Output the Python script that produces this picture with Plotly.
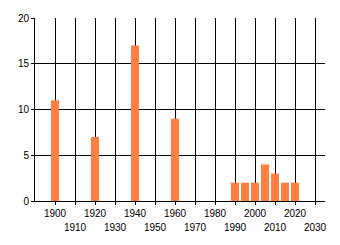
import plotly.graph_objects as go

years = [1900, 1920, 1940, 1960, 1990, 1995, 2000, 2005, 2010, 2015, 2020]
counts = [11, 7, 17, 9, 2, 2, 2, 4, 3, 2, 2]
decades = [1900, 1910, 1920, 1930, 1940, 1950, 1960, 1970, 1980, 1990, 2000, 2010, 2020, 2030]
top_row = [1900, 1920, 1940, 1960, 1980, 2000, 2020]
bottom_row = [1910, 1930, 1950, 1970, 1990, 2010, 2030]
y_ticks = [0, 5, 10, 15, 20]

font = dict(family="Liberation Sans, Arial, sans-serif", size=10, color="#000")

fig = go.Figure()
fig.add_trace(go.Bar(x=years, y=counts, width=4, marker=dict(color="#FF8040", line=dict(width=0)),
                     xaxis="x", yaxis="y"))
fig.add_trace(go.Scatter(x=[None], y=[None], xaxis="x2", yaxis="y", showlegend=False, hoverinfo="skip"))

fig.update_layout(
    width=340, height=245,
    margin=dict(l=35, r=15, t=15, b=44),
    paper_bgcolor="white", plot_bgcolor="white",
    showlegend=False,
    font=font,
    xaxis=dict(
        range=[1890, 2035],
        tickvals=decades,
        ticktext=[str(d) if d in top_row else "" for d in decades],
        ticks="outside", ticklen=3, tickcolor="black", tickwidth=1,
        showgrid=True, gridcolor="black", gridwidth=1,
        showline=True, linecolor="black", linewidth=1,
        zeroline=False, tickfont=font,
    ),
    xaxis2=dict(
        range=[1890, 2035], overlaying="x", anchor="y", side="bottom",
        tickvals=bottom_row, ticktext=[str(d) for d in bottom_row],
        ticks="", showgrid=False, showline=False, zeroline=False,
        ticklabelstandoff=19, tickfont=font,
    ),
    yaxis=dict(
        range=[0, 20], tickvals=y_ticks,
        ticks="outside", ticklen=3, tickcolor="black", tickwidth=1,
        showgrid=True, gridcolor="black", gridwidth=1,
        showline=True, linecolor="black", linewidth=1,
        zeroline=False, tickfont=font,
    ),
)

fig.write_html("out.html")
